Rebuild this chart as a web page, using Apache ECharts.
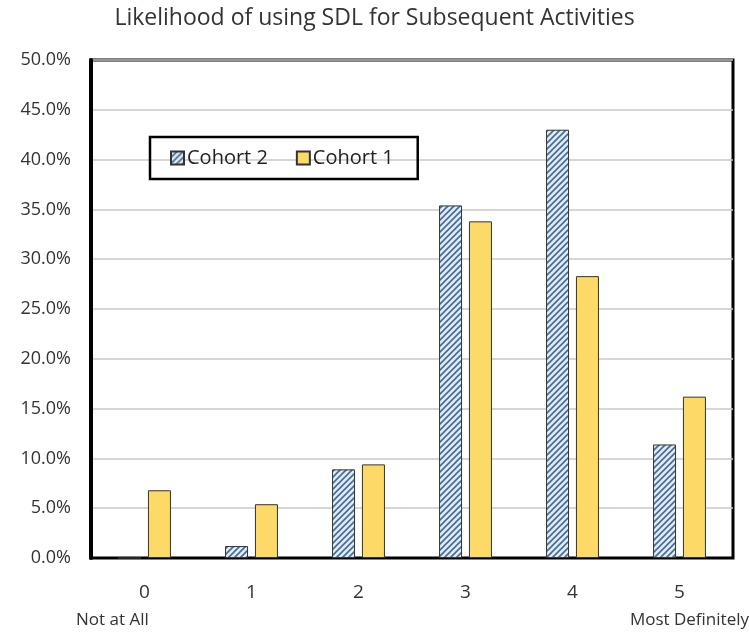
<!DOCTYPE html>
<html>
<head>
<meta charset="utf-8">
<script src="https://cdn.jsdelivr.net/npm/echarts@6/dist/echarts.min.js"></script>
<style>
  html, body { margin: 0; padding: 0; background: #fff; }
  #chart { width: 749px; height: 634px; }
</style>
</head>
<body>
<div id="chart"></div>
<script>
// 数据
var categories = ["0", "1", "2", "3", "4", "5"];
var cohort2 = [0, 1.2, 8.9, 35.4, 43.0, 11.4];
var cohort1 = [6.8, 5.4, 9.4, 33.8, 28.3, 16.2];
var yTicks = { min: 0, max: 50, interval: 5 };

// 斜线填充
function makeHatch() {
  var c = document.createElement("canvas");
  c.width = 6;
  c.height = 6;
  var ctx = c.getContext("2d");
  ctx.fillStyle = "#dcecf7";
  ctx.fillRect(0, 0, 6, 6);
  ctx.strokeStyle = "#4a6a8c";
  ctx.lineWidth = 1.6;
  ctx.beginPath();
  ctx.moveTo(-1, 7); ctx.lineTo(7, -1);
  ctx.moveTo(-4, 4); ctx.lineTo(4, -4);
  ctx.moveTo(2, 10); ctx.lineTo(10, 2);
  ctx.stroke();
  return c;
}

var font = "'Open Sans', 'Liberation Sans', sans-serif";
var hatch = { image: makeHatch(), repeat: "repeat" };

var chart = echarts.init(document.getElementById("chart"));
var option = {
  animation: false,
  title: {
    text: "Likelihood of using SDL for Subsequent Activities",
    left: "center",
    top: 2,
    textStyle: { fontFamily: font, fontSize: 23, fontWeight: "normal", color: "#333" },
  },
  legend: {
    left: 150,
    top: 137,
    padding: [11, 24, 11, 20],
    borderColor: "#000",
    borderWidth: 2.5,
    itemWidth: 13,
    itemHeight: 13,
    itemGap: 28,
    icon: "rect",
    data: ["Cohort 2", "Cohort 1"],
    textStyle: { fontFamily: font, fontSize: 20, color: "#222", padding: [0, 0, 0, -2] },
  },
  grid: {
    left: 91,
    right: 16,
    top: 60,
    bottom: 76,
    show: true,
    borderColor: "#000",
    borderWidth: 3,
  },
  xAxis: {
    type: "category",
    data: categories,
    axisLine: { lineStyle: { color: "#000", width: 2 } },
    axisTick: { show: false },
    axisLabel: { fontFamily: font, fontSize: 19, color: "#333", margin: 25 },
  },
  yAxis: {
    type: "value",
    min: yTicks.min,
    max: yTicks.max,
    interval: yTicks.interval,
    axisLine: { show: true, lineStyle: { color: "#000", width: 4 } },
    axisTick: { show: false },
    splitLine: { lineStyle: { color: "#c8c8c8", width: 1.5 } },
    axisLabel: {
      fontFamily: font,
      fontSize: 18,
      color: "#333",
      margin: 20,
      formatter: function (v) { return v.toFixed(1) + "%"; },
    },
  },
  series: [
    {
      name: "Cohort 2",
      type: "bar",
      data: cohort2,
      barWidth: 23,
      barGap: "30%",
      itemStyle: { color: hatch, borderColor: "#333", borderWidth: 1 },
    },
    {
      name: "Cohort 1",
      type: "bar",
      data: cohort1,
      barWidth: 23,
      itemStyle: { color: "#fdd967", borderColor: "#333", borderWidth: 1 },
    },
  ],
  graphic: [
    {
      type: "text",
      left: 76,
      top: 612,
      style: { text: "Not at All", font: "17px " + font, fill: "#333" },
    },
    {
      type: "text",
      right: 0,
      top: 612,
      style: { text: "Most Definitely", font: "17px " + font, fill: "#333" },
    },
  ],
};
chart.setOption(option);
</script>
</body>
</html>
